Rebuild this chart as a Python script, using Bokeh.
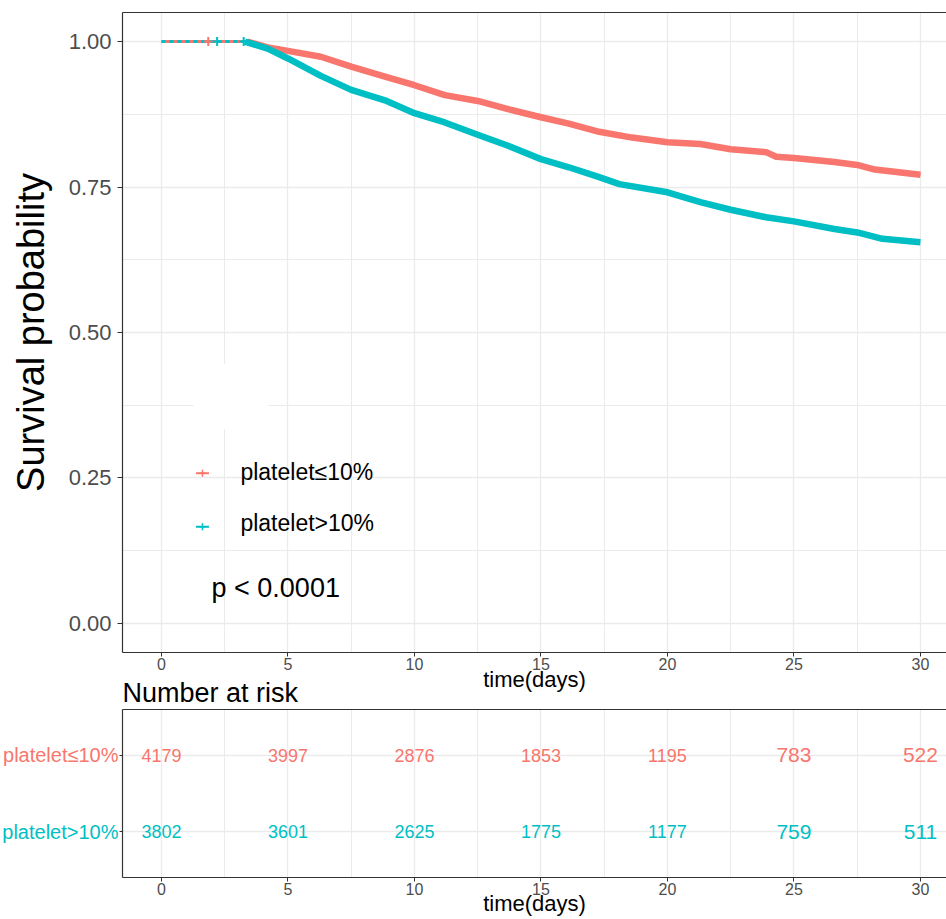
from bokeh.plotting import figure
from bokeh.models import (Range1d, FixedTicker, SingleIntervalTicker, LinearAxis, Label,
                          BoxAnnotation, ColumnDataSource, NumeralTickFormatter)
from bokeh.layouts import column, row
from bokeh.embed import file_html
from bokeh.resources import INLINE
from bokeh.core.properties import value

# ---------------- data ----------------
groups = ["platelet≤10%", "platelet>10%"]

time_low = [0, 3.4, 4.2, 5, 6.3, 7.5, 8.9, 10, 11.2, 12.5, 13.7, 15, 16.1, 17.3, 18.6,
            20, 21.3, 22.5, 23.9, 24.3, 25, 26.6, 27.5, 28.2, 30]
surv_low = [1.0, 1.0, 0.99, 0.984, 0.974, 0.957, 0.939, 0.925, 0.908, 0.898, 0.884, 0.870,
            0.859, 0.845, 0.835, 0.827, 0.824, 0.815, 0.810, 0.802, 0.800, 0.793, 0.788,
            0.780, 0.771]

time_high = [0, 3.3, 4.2, 5, 6.3, 7.5, 8.9, 10, 11.2, 12.5, 13.7, 15, 16.1, 17.3, 18.1,
             20, 21.3, 22.5, 23.9, 25, 26.6, 27.5, 28.5, 30]
surv_high = [1.0, 1.0, 0.988, 0.971, 0.941, 0.917, 0.898, 0.877, 0.861, 0.840, 0.821, 0.798,
             0.784, 0.767, 0.755, 0.741, 0.724, 0.711, 0.698, 0.691, 0.678, 0.672, 0.661,
             0.655]

censor_low_time = [1.85]
censor_high_time = [2.2, 3.25]

risk_times = [0, 5, 10, 15, 20, 25, 30]
risk_low = [4179, 3997, 2876, 1853, 1195, 783, 522]
risk_high = [3802, 3601, 2625, 1775, 1177, 759, 511]

x_tick_interval = 5
y_ticks = [0.0, 0.25, 0.5, 0.75, 1.0]
p_value_text = "p < 0.0001"

# ---------------- style ----------------
RED = "#F8766D"
CYAN = "#00BFC4"
FONT = "Liberation Sans"
GRID = "#EBEBEB"
AXIS = "#333333"
TICKTXT = "#4D4D4D"
risk_font_sizes = ["18px"] * 5 + ["21px"] * 2

W = 946
X_RANGE = (-1.54, 31.03)
Y2_RANGE = (0.4, 2.6)


def style_bottom_axis(ax):
    ax.ticker = SingleIntervalTicker(interval=x_tick_interval, num_minor_ticks=2)
    ax.axis_label = "time(days)"
    ax.axis_label_text_font = FONT
    ax.axis_label_text_font_size = "22px"
    ax.axis_label_text_font_style = "normal"
    ax.axis_label_text_color = "#000000"
    ax.axis_label_standoff = -6
    ax.major_label_text_font = FONT
    ax.major_label_text_font_size = "16px"
    ax.major_label_text_color = TICKTXT
    ax.major_label_standoff = 1
    ax.major_tick_out = 4
    ax.major_tick_in = 0
    ax.major_tick_line_color = AXIS
    ax.minor_tick_line_color = None
    ax.axis_line_color = AXIS
    ax.axis_line_width = 1.2
    return ax.ticker


def top_border(p):
    top = LinearAxis(ticker=FixedTicker(ticks=[]), axis_line_color=AXIS, axis_line_width=1.2,
                     major_tick_line_color=None, minor_tick_line_color=None,
                     major_label_text_font_size="0px")
    p.add_layout(top, "above")


# ---------------- survival plot ----------------
p1 = figure(width=W, height=697, x_range=Range1d(*X_RANGE), y_range=Range1d(-0.05, 1.05),
            output_backend="svg", toolbar_location=None,
            min_border_left=122, min_border_right=0, min_border_top=12, min_border_bottom=45)
p1.outline_line_color = None
p1.background_fill_color = "white"
p1.border_fill_color = "white"

xt = style_bottom_axis(p1.xaxis[0])
p1.xgrid.ticker = xt
p1.xgrid.grid_line_color = GRID
p1.xgrid.grid_line_width = 1.3
p1.xgrid.minor_grid_line_color = GRID
p1.xgrid.minor_grid_line_width = 1.0

y_minor = [(a + b) / 2 for a, b in zip(y_ticks[:-1], y_ticks[1:])]
yt = FixedTicker(ticks=y_ticks, minor_ticks=y_minor)
ya = p1.yaxis[0]
ya.ticker = yt
ya.formatter = NumeralTickFormatter(format="0.00")
ya.axis_label = "Survival probability"
ya.axis_label_text_font = FONT
ya.axis_label_text_font_size = "38px"
ya.axis_label_text_font_style = "normal"
ya.axis_label_text_color = "#000000"
ya.axis_label_standoff = 14
ya.major_label_text_font = FONT
ya.major_label_text_font_size = "22px"
ya.major_label_text_color = TICKTXT
ya.major_label_standoff = 6
ya.major_tick_out = 5
ya.major_tick_in = 0
ya.major_tick_line_color = AXIS
ya.minor_tick_line_color = None
ya.axis_line_color = AXIS
ya.axis_line_width = 1.2
p1.ygrid.ticker = yt
p1.ygrid.grid_line_color = GRID
p1.ygrid.grid_line_width = 1.3
p1.ygrid.minor_grid_line_color = GRID
p1.ygrid.minor_grid_line_width = 1.0
top_border(p1)

# white patch present in the original
p1.add_layout(BoxAnnotation(left=1.26, right=4.23, bottom=0.334, top=0.446,
                            fill_color="white", fill_alpha=1.0, line_color=None))


def first_drop(surv):
    return next(i for i, s in enumerate(surv) if s < 1.0) - 1


i_low = first_drop(surv_low)
i_high = first_drop(surv_high)

p1.line(time_low, surv_low, line_color=RED, line_width=3)
p1.line(time_high[:i_high + 1], surv_high[:i_high + 1], line_color=CYAN, line_width=3,
        line_dash="4 4")
p1.line(time_low[i_low:], surv_low[i_low:], line_color=RED, line_width=6.5, line_join="round")
p1.line(time_high[i_high:], surv_high[i_high:], line_color=CYAN, line_width=6.5, line_join="round")
p1.scatter(censor_low_time, [1.0] * len(censor_low_time), marker="cross", size=9,
           line_color=RED, line_width=2)
p1.scatter(censor_high_time, [1.0] * len(censor_high_time), marker="cross", size=9,
           line_color=CYAN, line_width=2)

# legend (drawn as in the original: small "+" marks and text)
leg_x = 1.62
leg_text_x = 3.12
leg_rows = [(0.258, 0.260, RED), (0.166, 0.172, CYAN)]
for (gy, ty, col), name in zip(leg_rows, groups):
    p1.scatter([leg_x], [gy], marker="dash", size=13, line_color=col, line_width=2)
    p1.scatter([leg_x], [gy], marker="cross", size=7, line_color=col, line_width=1.5)
    p1.add_layout(Label(x=leg_text_x, y=ty, text=name, text_font=FONT, text_font_size="23px",
                        text_color="#000000", text_baseline="middle", text_align="left"))

p1.add_layout(Label(x=1.98, y=0.061, text=p_value_text, text_font=FONT, text_font_size="27px",
                    text_color="#000000", text_baseline="middle", text_align="left"))

# ---------------- risk table ----------------
row_y = [2, 1]
ROW_H = 246
TOP_B = 37
BOT_B = 40

# row labels (coloured like the groups) in a narrow panel to the left
lab = figure(width=119, height=ROW_H, x_range=Range1d(0, 1), y_range=Range1d(*Y2_RANGE),
             output_backend="svg", toolbar_location=None, x_axis_type=None, y_axis_type=None,
             min_border_left=0, min_border_right=0, min_border_top=TOP_B, min_border_bottom=BOT_B)
lab.outline_line_color = None
lab.grid.visible = False
lab.background_fill_alpha = 0
lab.border_fill_alpha = 0
lab_src = ColumnDataSource(dict(x=[1, 1], y=row_y, text=groups, color=[RED, CYAN]))
lab.text(x="x", y="y", text="text", text_color="color", text_font_size="20px",
         text_align="right", text_baseline="middle", text_font=value(FONT), x_offset=-1,
         source=lab_src)

p2 = figure(width=W - 119, height=ROW_H, x_range=Range1d(*X_RANGE), y_range=Range1d(*Y2_RANGE),
            output_backend="svg", toolbar_location=None,
            min_border_left=3, min_border_right=0, min_border_top=TOP_B, min_border_bottom=BOT_B)
p2.outline_line_color = None
p2.background_fill_color = "white"
p2.border_fill_alpha = 0
p2.title.text = "Number at risk"
p2.title.align = "left"
p2.title.text_font = FONT
p2.title.text_font_size = "27px"
p2.title.text_font_style = "normal"
p2.title.text_color = "#000000"
p2.title.standoff = 4

xt2 = style_bottom_axis(p2.xaxis[0])
p2.xaxis[0].axis_label_standoff = -7
p2.xgrid.ticker = xt2
p2.xgrid.grid_line_color = GRID
p2.xgrid.grid_line_width = 1.3
p2.xgrid.minor_grid_line_color = GRID
p2.xgrid.minor_grid_line_width = 1.0

yt2 = FixedTicker(ticks=row_y)
ya2 = p2.yaxis[0]
ya2.ticker = yt2
ya2.major_label_overrides = {y: "" for y in row_y}
ya2.major_label_text_font_size = "0px"
ya2.major_label_standoff = 0
ya2.major_tick_out = 3
ya2.major_tick_in = 0
ya2.major_tick_line_color = AXIS
ya2.minor_tick_line_color = None
ya2.axis_line_color = AXIS
ya2.axis_line_width = 1.2
p2.ygrid.ticker = yt2
p2.ygrid.grid_line_color = GRID
p2.ygrid.grid_line_width = 1.3
top_border(p2)

src = ColumnDataSource(dict(
    x=risk_times + risk_times,
    y=[row_y[0]] * len(risk_times) + [row_y[1]] * len(risk_times),
    text=[str(v) for v in risk_low + risk_high],
    color=[RED] * len(risk_low) + [CYAN] * len(risk_high),
    size=risk_font_sizes + risk_font_sizes,
))
p2.text(x="x", y="y", text="text", text_color="color", text_font_size="size",
        text_align="center", text_baseline="middle", text_font=value(FONT), source=src)

table = row(lab, p2, spacing=0)
table.margin = (-25, 0, 0, 0)

layout = column(p1, table, spacing=0)
open("out.html", "w").write(file_html(layout, INLINE))
